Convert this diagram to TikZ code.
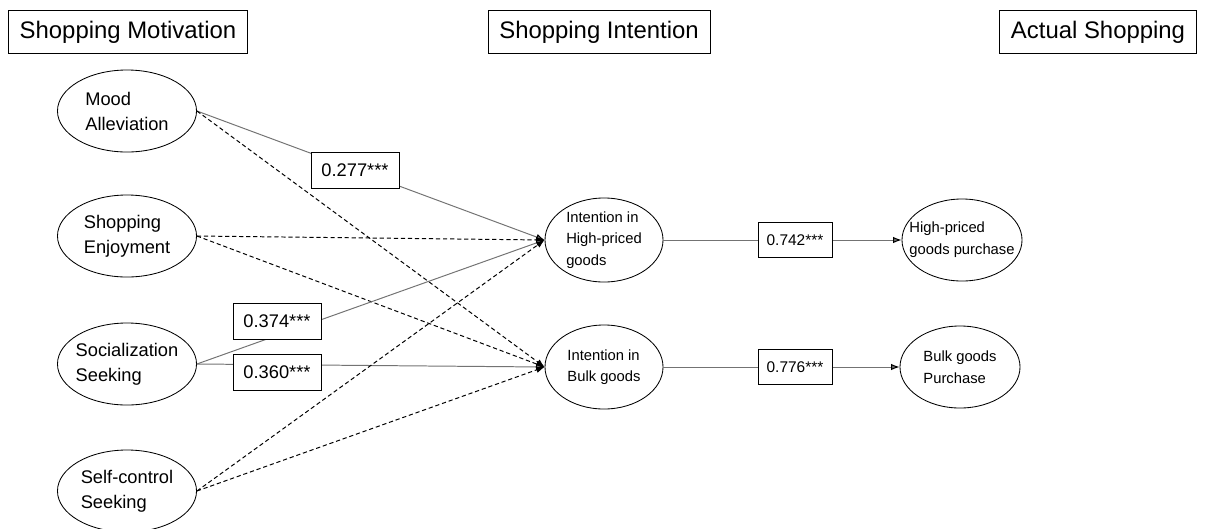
\documentclass[tikz,border=0pt]{standalone}
\usepackage{fontspec}
\setmainfont{Liberation Sans}
\usetikzlibrary{shapes.geometric,arrows.meta}

\definecolor{pathgray}{gray}{0.45}
\def\tip{{Latex[length=6pt,width=4.5pt,color=black]}}
\tikzstyle{header}=[draw,thin,minimum height=30.5pt,inner xsep=8pt,
                    font=\fontsize{17}{20}\selectfont]
\tikzstyle{motive}=[draw,ellipse,semithick,minimum width=3.475cm,minimum height=2.05cm,
                    inner xsep=-8pt,inner ysep=0pt,align=left,
                    font=\fontsize{13}{17.8}\selectfont]
\tikzstyle{intent}=[motive,minimum width=2.95cm,minimum height=2.1cm,
                    font=\fontsize{10.5}{15.4}\selectfont]
\tikzstyle{buy}=[intent,minimum width=3cm,minimum height=2.05cm]
\tikzstyle{coef}=[draw,thin,fill=white,minimum height=25.6pt,inner xsep=7.5pt,
                  font=\fontsize{13}{15}\selectfont]
\tikzstyle{coefsmall}=[coef,minimum height=25pt,inner xsep=6pt,
                       font=\fontsize{11}{13}\selectfont]
\tikzstyle{sig}=[pathgray,line width=0.7pt,-\tip]
\tikzstyle{ns}=[black,line width=0.7pt,dash pattern=on 3pt off 2pt,-\tip]

\begin{document}
\begin{tikzpicture}[x=0.025cm,y=-0.025cm]
  \useasboundingbox (0,0) rectangle (1215,528);

  \node[header] (hmot) at (128,32) {Shopping Motivation};
  \node[header] (hint) at (599,32) {Shopping Intention};
  \node[header] (hact) at (1098,32) {Actual Shopping};

  \node[motive] (mood) at (127,111) {Mood\\Alleviation};
  \node[motive] (enjoy) at (127,236) {Shopping\\Enjoyment};
  \node[motive] (social) at (127,364) {Socialization\\Seeking};
  \node[motive] (self) at (127,491) {Self-control\\Seeking};

  \node[intent] (ihigh) at (604,240) {Intention in\\High-priced\\goods};
  \node[intent] (ibulk) at (604,367) {Intention in\\Bulk goods};

  \node[buy] (phigh) at (962,240) {High-priced\\goods purchase};
  \node[buy] (pbulk) at (960,367) {Bulk goods\\Purchase};

  \path[sig] (mood.east) edge (ihigh.west);
  \path[ns] (mood.east) edge (ibulk.west);
  \path[ns] (enjoy.east) edge (ihigh.west);
  \path[ns] (enjoy.east) edge (ibulk.west);
  \path[sig] (social.east) edge (ihigh.west);
  \path[sig] (social.east) edge (ibulk.west);
  \path[ns] (self.east) edge (ihigh.west);
  \path[ns] (self.east) edge (ibulk.west);
  \path[sig] (ihigh) edge (phigh);
  \path[sig] (ibulk) edge (pbulk);

  \node[coef] (cmood) at (355,170) {0.277***};
  \node[coef] (csochigh) at (277,321) {0.374***};
  \node[coef] (csocbulk) at (277,372) {0.360***};
  \node[coefsmall] (chigh) at (795,240) {0.742***};
  \node[coefsmall] (cbulk) at (795,367) {0.776***};

\end{tikzpicture}
\end{document}
